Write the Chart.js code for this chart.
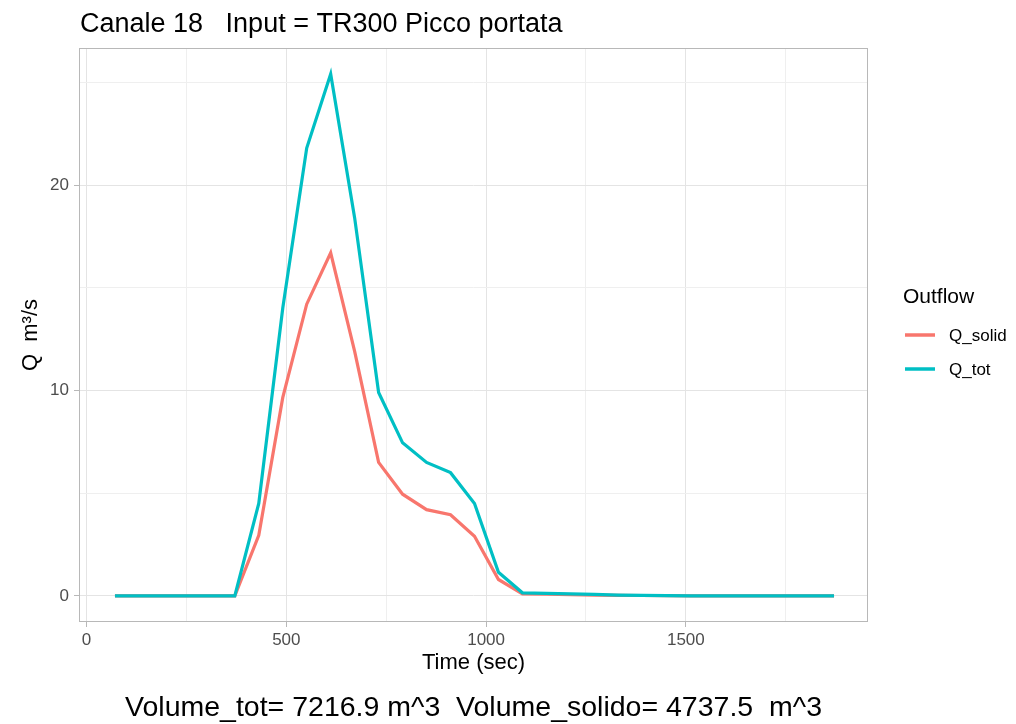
<!DOCTYPE html>
<html>
<head>
<meta charset="utf-8">
<script src="https://cdn.jsdelivr.net/npm/chart.js@4.4.1/dist/chart.umd.min.js"></script>
<style>
  body { margin: 0; background: #fff; }
  canvas { display: block; }
</style>
</head>
<body>
<canvas id="outflowChart" width="1016" height="724"></canvas>
<script>
// values (time step 60 s)
const timeSec = [71, 131, 191, 251, 311, 371, 431, 491, 551, 611, 671, 731, 791, 851, 911, 971,
  1031, 1091, 1151, 1211, 1271, 1331, 1391, 1451, 1511, 1571, 1631, 1691, 1751, 1811, 1871];
const qSolid = [0, 0, 0, 0, 0, 0, 2.95, 9.65, 14.2, 16.7, 11.9, 6.5, 4.95, 4.2, 3.95, 2.9,
  0.8, 0.1, 0.08, 0.06, 0.04, 0.03, 0.02, 0.01, 0, 0, 0, 0, 0, 0, 0];
const qTot = [0, 0, 0, 0, 0, 0, 4.5, 14.0, 21.8, 25.4, 18.4, 9.9, 7.45, 6.5, 6.0, 4.5,
  1.15, 0.15, 0.12, 0.1, 0.07, 0.04, 0.03, 0.01, 0, 0, 0, 0, 0, 0, 0];

const xTickValues = [0, 250, 500, 750, 1000, 1250, 1500, 1750];
const xTickLabels = ['0', '', '500', '', '1000', '', '1500', ''];
const yTickValues = [0, 5, 10, 15, 20, 25];
const yTickLabels = ['0', '', '10', '', '20', ''];

const seriesNames = ['Q_solid', 'Q_tot'];
const seriesColors = ['#F8766D', '#00BFC4'];

const plotTitle = 'Canale 18   Input = TR300 Picco portata';
const volumeNote = 'Volume_tot= 7216.9 m^3  Volume_solido= 4737.5  m^3';
const legendTitle = 'Outflow';

const FONT = "'Liberation Sans', Arial, sans-serif";
const GRID_MAJOR = '#e4e4e4';
const GRID_MINOR = '#efefef';
const FRAME = '#b8b8b8';

const toPoints = ys => timeSec.map((t, i) => ({ x: t, y: ys[i] }));

// title, caption, panel frame and legend, ggplot style
const decorations = {
  id: 'decorations',
  afterDraw(chart) {
    const { ctx, chartArea: a } = chart;
    ctx.save();
    ctx.strokeStyle = FRAME;
    ctx.lineWidth = 1;
    ctx.strokeRect(Math.round(a.left) + 0.5, Math.round(a.top) + 0.5,
      Math.round(a.width) - 1, Math.round(a.height) - 1);

    ctx.fillStyle = '#000';
    ctx.textBaseline = 'alphabetic';
    ctx.textAlign = 'left';
    ctx.font = '27px ' + FONT;
    ctx.fillText(plotTitle, a.left + 1, 32);

    ctx.textAlign = 'center';
    ctx.font = '28.5px ' + FONT;
    ctx.fillText(volumeNote, (a.left + a.right) / 2, 716);

    // legend
    const lx = 903;
    ctx.textAlign = 'left';
    ctx.font = '21px ' + FONT;
    ctx.fillText(legendTitle, lx, 303);
    ctx.font = '17px ' + FONT;
    ctx.textBaseline = 'middle';
    const rows = [335, 369];
    seriesNames.forEach((name, i) => {
      ctx.strokeStyle = seriesColors[i];
      ctx.lineWidth = 3.5;
      ctx.beginPath();
      ctx.moveTo(lx + 2, rows[i]);
      ctx.lineTo(lx + 32, rows[i]);
      ctx.stroke();
      ctx.fillStyle = '#000';
      ctx.fillText(name, lx + 46, rows[i] + 1);
    });
    ctx.restore();
  }
};

new Chart(document.getElementById('outflowChart').getContext('2d'), {
  type: 'line',
  data: {
    datasets: [
      { label: seriesNames[0], data: toPoints(qSolid), borderColor: seriesColors[0], borderWidth: 3.2, pointRadius: 0, tension: 0, order: 2 },
      { label: seriesNames[1], data: toPoints(qTot), borderColor: seriesColors[1], borderWidth: 3.2, pointRadius: 0, tension: 0, order: 1 }
    ]
  },
  options: {
    responsive: false,
    animation: false,
    layout: { padding: { top: 48, right: 148, bottom: 42, left: 0 } },
    plugins: { legend: { display: false }, tooltip: { enabled: false } },
    scales: {
      x: {
        type: 'linear',
        min: -19,
        max: 1956,
        afterBuildTicks: s => { s.ticks = xTickValues.map(v => ({ value: v })); },
        afterFit: s => { s.height = 60; },
        border: { display: false },
        grid: {
          color: c => xTickLabels[c.index] ? GRID_MAJOR : GRID_MINOR,
          tickColor: c => xTickLabels[c.index] ? FRAME : 'rgba(0,0,0,0)',
          tickLength: 5
        },
        ticks: {
          autoSkip: false,
          maxRotation: 0,
          padding: 3,
          color: '#4d4d4d',
          font: { family: FONT, size: 17 },
          callback: (v, i) => xTickLabels[i]
        },
        title: { display: true, text: 'Time (sec)', color: '#000', font: { family: FONT, size: 22 }, padding: { top: 0, bottom: 6 } }
      },
      y: {
        min: -1.27,
        max: 26.67,
        afterBuildTicks: s => { s.ticks = yTickValues.map(v => ({ value: v })); },
        afterFit: s => { s.width = 79; },
        border: { display: false },
        grid: {
          color: c => yTickLabels[c.index] ? GRID_MAJOR : GRID_MINOR,
          tickColor: c => yTickLabels[c.index] ? FRAME : 'rgba(0,0,0,0)',
          tickLength: 5
        },
        ticks: {
          autoSkip: false,
          padding: 5,
          color: '#4d4d4d',
          font: { family: FONT, size: 17 },
          callback: (v, i) => yTickLabels[i]
        },
        title: { display: true, text: 'Q  m³/s', color: '#000', font: { family: FONT, size: 22 }, padding: { top: 18, bottom: 0 } }
      }
    }
  },
  plugins: [decorations]
});
</script>
</body>
</html>
